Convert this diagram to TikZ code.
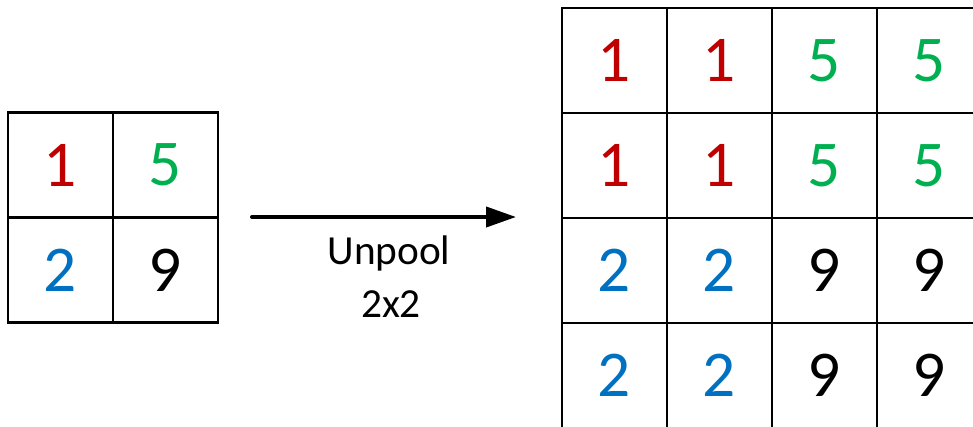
\documentclass[tikz,border=0pt]{standalone}
\usepackage{fontspec}
\setmainfont{Carlito}
\usetikzlibrary{arrows.meta}
\definecolor{cred}{HTML}{C00000}
\definecolor{cgreen}{HTML}{00B050}
\definecolor{cblue}{HTML}{0070C0}
\begin{document}
\begin{tikzpicture}[x=0.75pt,y=-0.75pt,
  cell/.style={draw=black,line width=1.6pt,minimum size=78.75pt,inner sep=0pt,
    font=\fontsize{49}{49}\selectfont},
  lbl/.style={font=\fontsize{31}{31}\selectfont,anchor=base,inner sep=0pt}]
\useasboundingbox (0,0) rectangle (973,426);
\clip (0,0) rectangle (973,426);
% left grid
\node[cell,text=cred]   (L11) at (60.5,165)  {1};
\node[cell,text=cgreen] (L12) at (165.5,165) {5};
\node[cell,text=cblue]  (L21) at (60.5,270)  {2};
\node[cell,text=black]  (L22) at (165.5,270) {9};
% right grid
\foreach \r/\y in {1/60.5,2/165.5,3/270.5,4/375.5}{
  \foreach \c/\x in {1/614.5,2/719.5,3/824.5,4/929.5}{
    \pgfmathsetmacro{\top}{\r<3 ? 1 : 0}
    \pgfmathsetmacro{\lft}{\c<3 ? 1 : 0}
    \ifdim\top pt>0.5pt
      \ifdim\lft pt>0.5pt \def\col{cred}\def\val{1}\else\def\col{cgreen}\def\val{5}\fi
    \else
      \ifdim\lft pt>0.5pt \def\col{cblue}\def\val{2}\else\def\col{black}\def\val{9}\fi
    \fi
    \node[cell,text=\col] (R\r\c) at (\x,\y) {\val};
  }
}
% arrow
\coordinate (as) at (252,217);
\coordinate (ae) at (516,217);
\draw[line width=3pt,line cap=round,-{Triangle[length=22.5pt,width=15pt]}] (as) -- (ae);
\node[lbl] (t1) at (389,264) {Unpool};
\node[lbl] (t2) at (391,317) {2x2};
\end{tikzpicture}
\end{document}
